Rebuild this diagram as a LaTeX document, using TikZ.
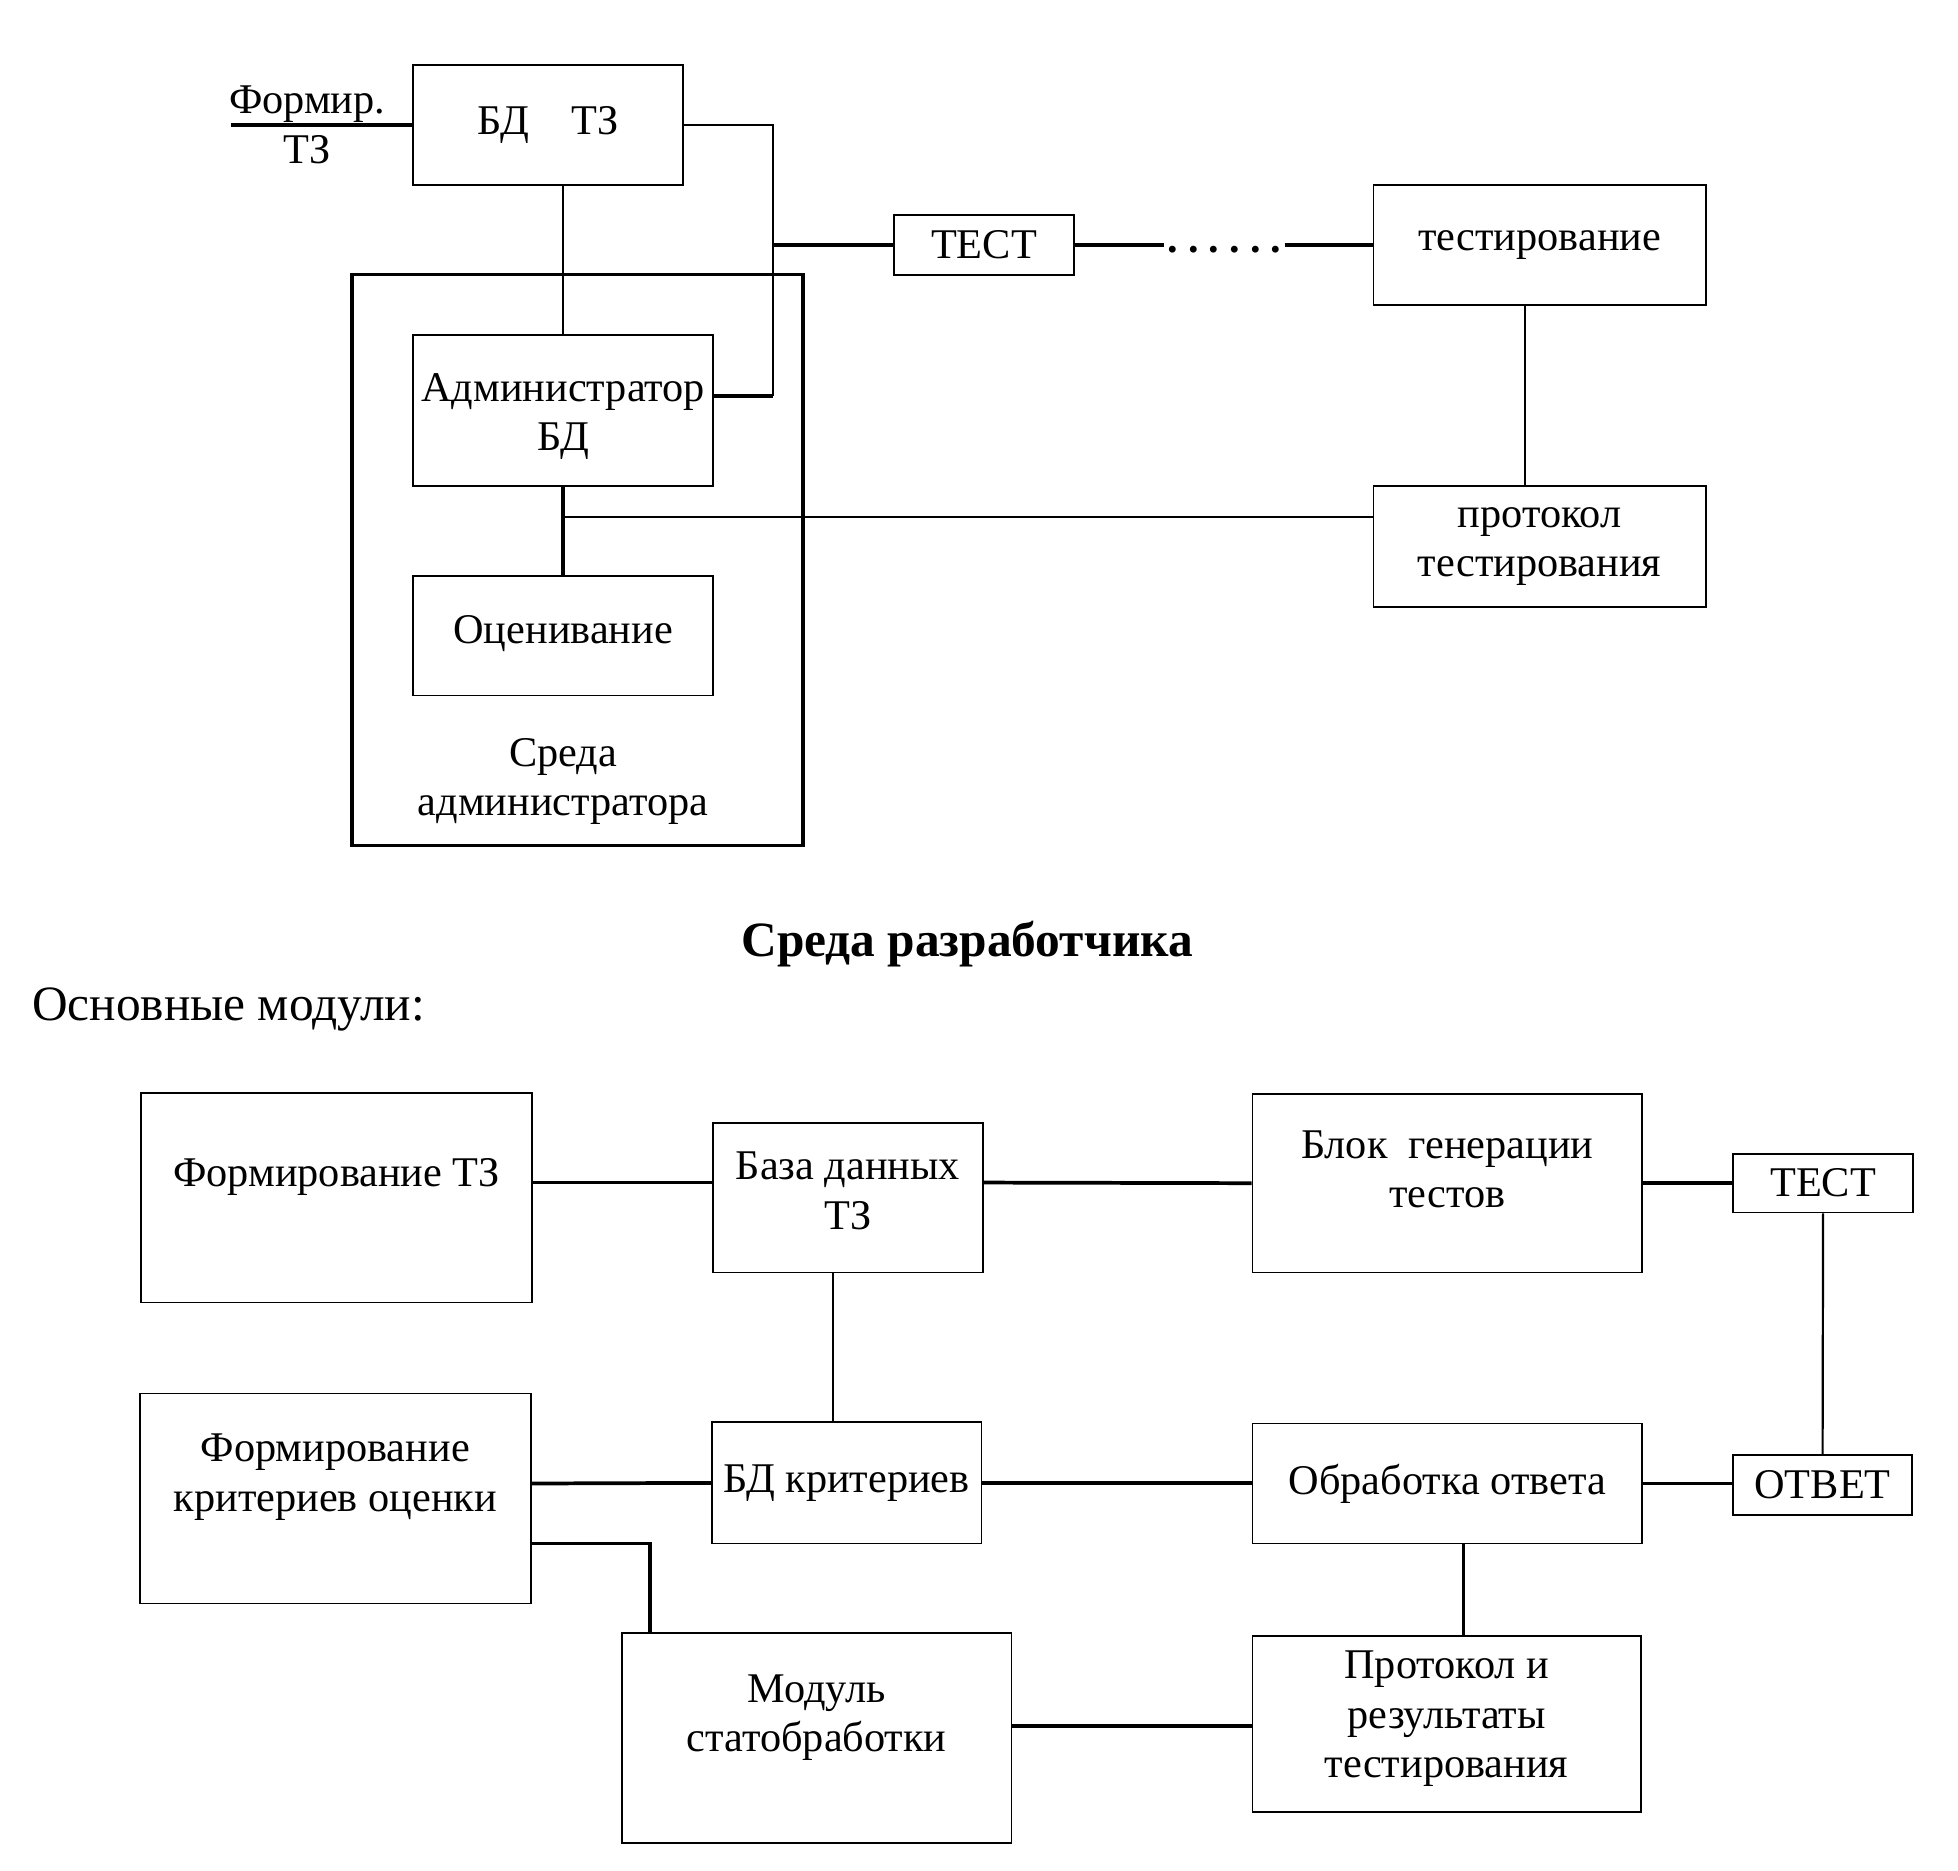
\documentclass[tikz,border=0pt]{standalone}
\usepackage{fontspec}
\setmainfont{Liberation Serif}
\newcommand{\padbot}[1]{\rule[-#1]{0pt}{#1}}
\newcommand{\padtop}[1]{\rule{0pt}{#1}}

\tikzset{
  box/.style={draw, line width=0.4pt, align=center, inner sep=0pt, font=\fontsize{9.64pt}{11.2pt}\selectfont},
  txt/.style={align=center, inner sep=0pt, font=\fontsize{9.64pt}{11.2pt}\selectfont},
  sz/.style 2 args={minimum width=#1mm, minimum height=#2mm},
  wire/.style={line width=0.5pt},
  boldwire/.style={line width=0.85pt},
}

\begin{document}
\begin{tikzpicture}[x=1mm, y=-1mm]
  \useasboundingbox (0,0) rectangle (156.8,149.8);

  \node (bdtz) [box, sz={21.6}{9.6}] at (43.9,10) {БД\quad ТЗ};
  \node (ftz) [txt] at (24.6,10) {Формир.\\ТЗ};
  \coordinate (ftzin) at (18.5,10);
  \node (env) [draw, line width=0.75pt, sz={36.1}{45.7}] at (46.25,44.85) {};
  \node (admin) [box, sz={24}{12.1}] at (45.1,32.85) {\padtop{3.3mm}Администратор\\БД};
  \node (eval) [box, sz={24}{9.6}] at (45.1,50.9) {Оценивание\padbot{1mm}};
  \node (envtext) [txt] at (45.1,62.55) {Среда\\администратора};
  \node (test1) [box, sz={14.4}{4.8}] at (78.8,19.6) {ТЕСТ};
  \node (dots) [inner xsep=0.5pt, inner ysep=0pt, text height=1.2mm, text depth=0pt, font=\fontsize{9.64pt}{11.2pt}\selectfont] at (98.05,19.6) {\textbf{.\kern.24em.\kern.24em.\kern.24em.\kern.24em.\kern.24em.}};
  \node (testing) [box, sz={26.6}{9.6}] at (123.3,19.6) {тестирование};
  \node (proto) [box, sz={26.6}{9.7}] at (123.3,43.75) {протокол\\тестирования};

  \coordinate (bus) at (61.9,19.6);
  \coordinate (knee) at (61.9,31.7);
  \coordinate (tap) at (45.1,41.4);

  \draw [boldwire] (ftzin) -- (bdtz.west);
  \draw [wire] (bdtz.east) -| (bus) -- (knee);
  \draw [boldwire] (knee) -- (knee -| admin.east);
  \draw [boldwire] (bus) -- (test1.west);
  \draw [wire] (admin.north |- bdtz.south) -- (admin.north);
  \draw [boldwire] (admin) -- (eval);
  \draw [wire] (tap) -- (tap -| proto.west);
  \draw [boldwire] (test1) -- (dots);
  \draw [boldwire] (dots) -- (testing);
  \draw [wire] ([xshift=-1.2mm]testing.south) -- ([xshift=-1.2mm]proto.north);

  \node (title) [font=\bfseries\fontsize{11.25pt}{13pt}\selectfont, inner sep=0pt] at (77.45,75.6) {Среда разработчика};
  \node (mods) [font=\fontsize{11.25pt}{13pt}\selectfont, inner sep=0pt, anchor=west] at (2.5,80.8) {Основные модули:};

  \node (fz) [box, sz={31.3}{16.8}] at (26.95,95.9) {Формирование ТЗ\padbot{3.95mm}};
  \node (bdz) [box, sz={21.6}{12}] at (67.9,95.9) {База данных\\ТЗ\padbot{1.1mm}};
  \node (gen) [box, sz={31.2}{14.3}] at (115.9,94.75) {Блок\ \ генерации\\тестов\padbot{2.3mm}};
  \node (test2) [box, sz={14.4}{4.7}] at (146,94.75) {ТЕСТ};
  \node (fk) [box, sz={31.3}{16.8}] at (26.85,120) {Формирование\\критериев оценки\padbot{4.15mm}};
  \node (bdk) [box, sz={21.6}{9.7}] at (67.8,118.75) {БД критериев};
  \node (obr) [box, sz={31.2}{9.6}] at (115.9,118.8) {Обработка ответа};
  \node (otvet) [box, sz={14.3}{4.8}] at (145.95,118.9) {ОТВЕТ};
  \node (modul) [box, sz={31.2}{16.8}] at (65.4,139.2) {Модуль\\статобработки\padbot{4.05mm}};
  \node (prot) [box, sz={31.1}{14.1}] at (115.85,138.05) {Протокол и\\результаты\\тестирования\padbot{1.55mm}};

  \draw [boldwire] ([yshift=1.2mm]fz.east) -- ([yshift=1.2mm]bdz.west);
  \draw [boldwire] ([yshift=1.2mm]bdz.east) -- (gen.west);
  \draw [boldwire] (gen) -- (test2);
  \draw [wire] (test2) -- (otvet);
  \draw [boldwire] (obr.east) -- (obr.east -| otvet.west);
  \draw [boldwire] (bdk.east) -- (bdk.east -| obr.west);
  \draw [boldwire] ([yshift=1.2mm]fk.east) -- (bdk.west);
  \draw [wire] ([xshift=-1.2mm]bdz.south) -- ([xshift=-1.2mm]bdz.south |- bdk.north);
  \draw [boldwire] ([yshift=-3.6mm]fk.east) -| ([xshift=2.3mm]modul.north west);
  \draw [boldwire] ([yshift=1mm]modul.east) -- ([yshift=1mm]modul.east -| prot.west);
  \draw [wire] ([xshift=1.3mm]obr.south) -- ([xshift=1.3mm]obr.south |- prot.north);
\end{tikzpicture}
\end{document}
